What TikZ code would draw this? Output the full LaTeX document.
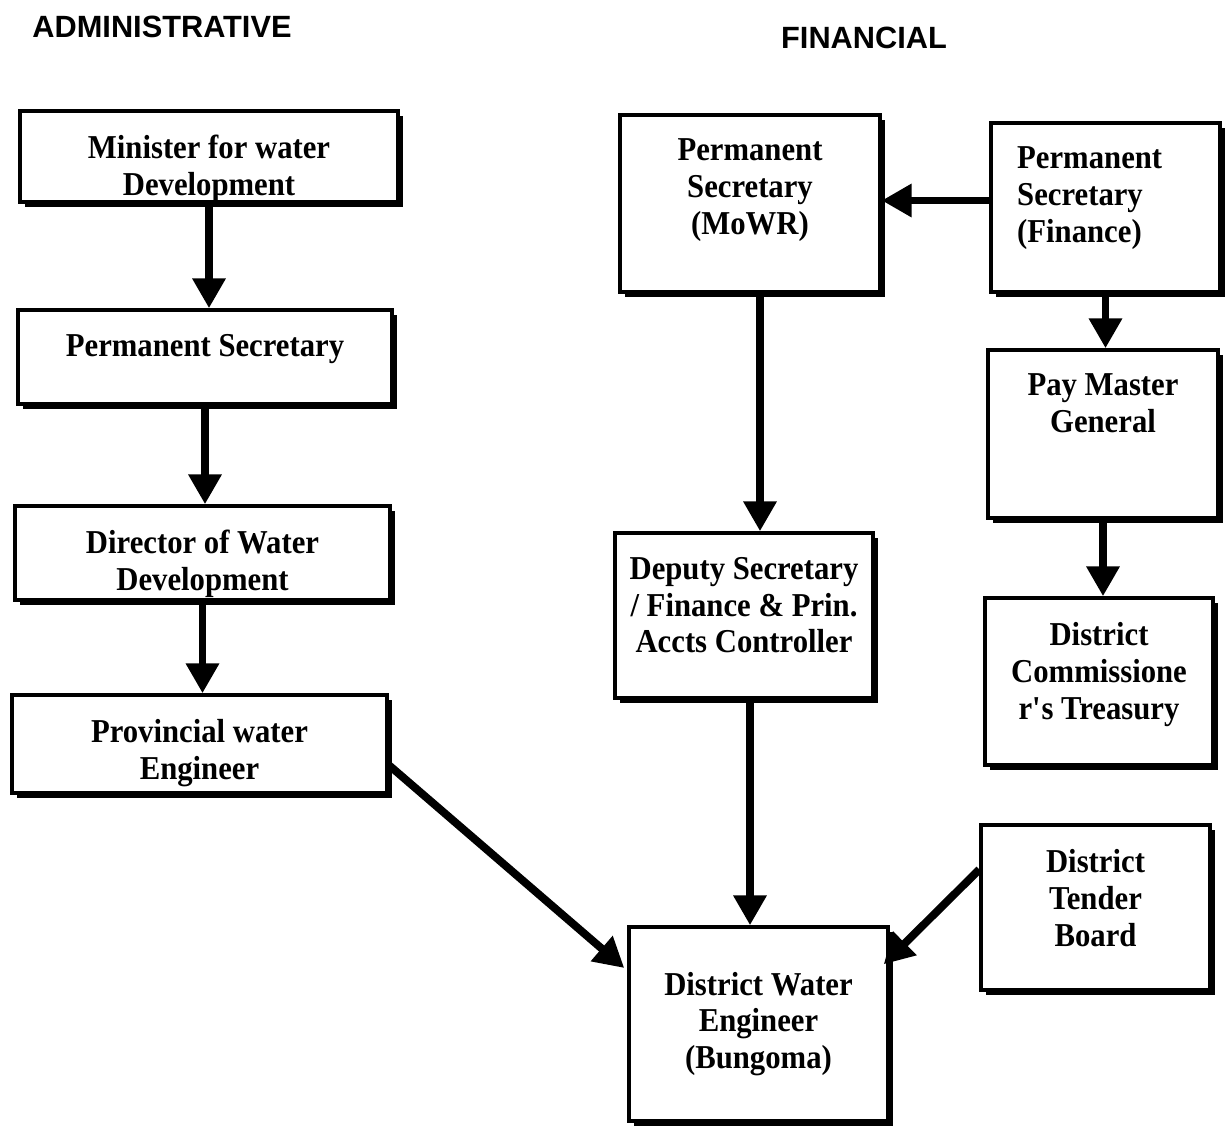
\documentclass[tikz,border=0pt]{standalone}
\usepackage{fontspec}
\setmainfont{Liberation Serif}[FakeStretch=0.92]
\newfontfamily\headfont{Liberation Sans}
\usetikzlibrary{arrows.meta, calc, shadows}
\tikzstyle{org} = [rectangle, draw=black, line width=2pt, fill=white, align=center, font=\bfseries\fontsize{19}{21}\selectfont, drop shadow={shadow xshift=2.8pt, shadow yshift=-2.8pt, fill=black, opacity=1}]
\tikzstyle{txt} = [anchor=north, align=center, inner sep=0pt, yshift=-14.5pt, font=\bfseries\fontsize{19}{21}\selectfont]
\tikzstyle{head} = [font=\headfont\bfseries\fontsize{17.5}{20}\selectfont]
\tikzstyle{arrow} = [line width=4.5pt, -{Triangle[length=17pt, width=18pt]}]

\begin{document}
\begin{tikzpicture}[x=0.02cm, y=-0.02cm]
        \useasboundingbox (0,0) rectangle (1227,1129);
        \node (adm) [head] at (162,27) {ADMINISTRATIVE};
        \node (fina) [head] at (864,38) {FINANCIAL};

        % administrative line
        \node (min) [org, minimum width=7.56cm, minimum height=1.82cm, label={[txt]north:{Minister for water\\Development}}] at (209,156.5) {};
        \node (ps) [org, minimum width=7.48cm, minimum height=1.88cm, label={[txt]north:{Permanent Secretary}}] at (205,357) {};
        \node (dir) [org, minimum width=7.5cm, minimum height=1.88cm, label={[txt]north:{Director of Water\\Development}}] at (202.5,553) {};
        \node (prov) [org, minimum width=7.5cm, minimum height=1.96cm, label={[txt]north:{Provincial water\\Engineer}}] at (199.5,744) {};

        % financial line
        \node (mowr) [org, minimum width=5.2cm, minimum height=3.54cm, label={[txt]north:{Permanent\\Secretary\\(MoWR)}}] at (750,203.5) {};
        \node (fin) [org, minimum width=4.58cm, minimum height=3.38cm, label={[txt, align=left, xshift=-9pt]north:{Permanent\\Secretary\\(Finance)}}] at (1105.5,207.5) {};
        \node (pay) [org, minimum width=4.6cm, minimum height=3.36cm, label={[txt]north:{Pay Master\\General}}] at (1103,434) {};
        \node (tre) [org, minimum width=4.56cm, minimum height=3.34cm, label={[txt]north:{District\\Commissione\\r\textquotesingle s Treasury}}] at (1099,681.5) {};
        \node (dep) [org, minimum width=5.16cm, minimum height=3.3cm, label={[txt]north:{Deputy Secretary\\/ Finance \& Prin.\\Accts Controller}}] at (744,615.5) {};
        \node (tend) [org, minimum width=4.58cm, minimum height=3.3cm, label={[txt]north:{District\\Tender\\Board}}] at (1095.5,907.5) {};
        \node (dwe) [org, minimum width=5.18cm, minimum height=3.88cm] at (758.5,1024) {District Water\\Engineer\\(Bungoma)};

        \coordinate (m1) at ($(mowr.south)+(10,0)$);
        \coordinate (d1) at ($(dep.south)+(6,0)$);
        \coordinate (f1) at ($(fin.west)+(0,-7)$);
        \coordinate (p1) at ($(prov.east)+(0,21)$);
        \coordinate (t1) at ($(tend.west)+(0,-38)$);
        \coordinate (w1) at ($(dwe.west)+(-3,-56)$);
        \coordinate (w2) at ($(dwe.north east)+(-6,39)$);

        \draw [arrow] (min.south) -- (min.south |- ps.north);
        \draw [arrow] (ps.south) -- (ps.south |- dir.north);
        \draw [arrow] (dir.south) -- (dir.south |- prov.north);
        \draw [arrow] (f1) -- (f1 -| mowr.east);
        \draw [arrow] (fin.south) -- (fin.south |- pay.north);
        \draw [arrow] (pay.south) -- (pay.south |- tre.north);
        \draw [arrow] (m1) -- (m1 |- dep.north);
        \draw [arrow] (d1) -- (d1 |- dwe.north);
        \draw [arrow] (p1) -- (w1);
        \draw [arrow] (t1) -- (w2);
\end{tikzpicture}
\end{document}
